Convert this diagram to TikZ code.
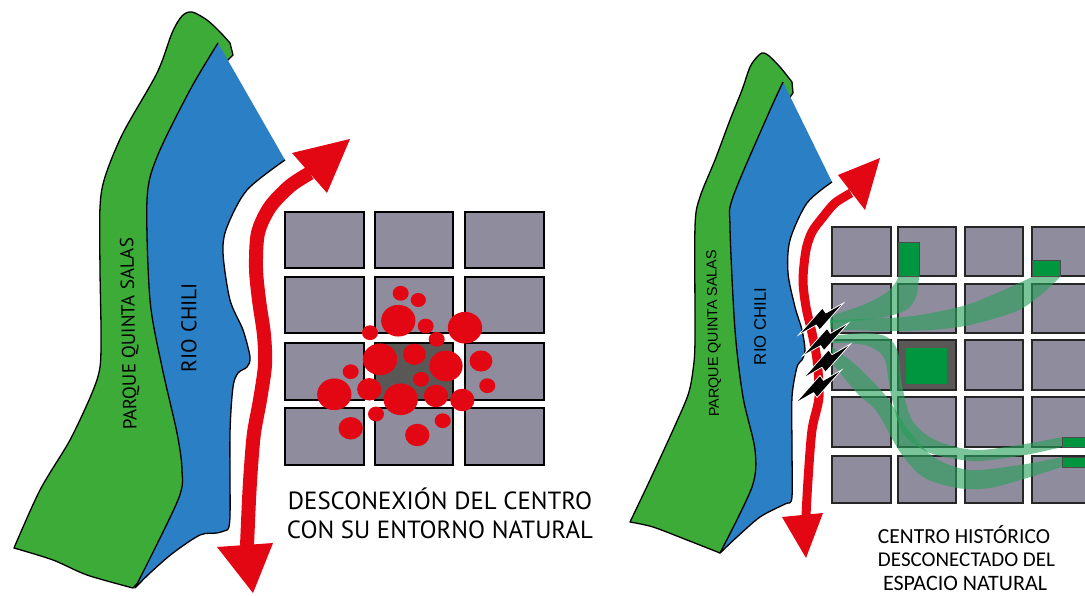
\documentclass[tikz,border=0pt]{standalone}
\usepackage{fontspec}
\usepackage{graphicx}
\usetikzlibrary{calc}
\newfontfamily\humfont{PT Sans}
\newfontfamily\arfont{Liberation Sans}
\newfontfamily\calfont{Carlito}
\definecolor{park}{RGB}{61,171,55}
\definecolor{river}{RGB}{43,127,196}
\definecolor{flow}{RGB}{227,6,19}
\definecolor{blockgray}{RGB}{143,140,158}
\definecolor{darkblock}{RGB}{90,88,86}
\definecolor{solidgreen}{RGB}{0,150,64}
\definecolor{ribgreen}{RGB}{40,160,90}
% lightning bolt between a tail point and a tip point: two offset wedges
\newcommand\boltpath[2]{%
  (#1) -- ($(#1)!0.64!(#2)!7.5pt!90:(#2)$) -- ($(#1)!0.64!(#2)!3pt!-90:(#2)$) -- cycle
  ($(#1)!0.36!(#2)!3pt!90:(#2)$) -- (#2) -- ($(#1)!0.36!(#2)!7.5pt!-90:(#2)$) -- cycle}
\newcommand\boltshape[2]{%
  \draw[white, line width=1.8pt, line join=miter, fill=white] \boltpath{#1}{#2};
  \fill[black] \boltpath{#1}{#2};}
\begin{document}
\begin{tikzpicture}[x=1pt,y=-1pt,
  outline/.style={draw=black, line width=1.3pt, line join=round},
  block/.style={fill=blockgray, draw=black, line width=1.7pt},
  rblock/.style={fill=blockgray, draw=black!85, line width=1.3pt},
  ribbon/.style={fill=ribgreen, fill opacity=0.62},
  gbox/.style={fill=solidgreen, draw=black!70, line width=1pt},
  flowline/.style={draw=flow, line cap=butt, line join=round},
  lbl/.style={inner sep=0pt, text=black}]
\useasboundingbox (0,0) rectangle (1085,596);
\clip (0,0) rectangle (1085,596);

% ---------------- left panel ----------------
% park
\filldraw[outline, fill=park]
  plot[smooth] coordinates {(133,588) (87,575) (53,560) (14,548)}
  -- plot[smooth] coordinates {(14,548) (40,490) (70,440) (92,393) (100,367) (101,330) (100,270) (100,207) (105,177) (123,133) (157,73) (172,33) (182,16) (192,12) (207,20) (220,32) (230,43)}
  -- (233,55) -- (226,62) -- (235,110) -- (195,200) -- (200,400) -- (205,480) -- (185,530) -- (150,570) -- cycle;
% river
\fill[river] (218,43) -- (285,160)
  -- plot[smooth] coordinates {(285,160) (247,190) (227,227) (223,253) (230,300) (243,330) (250,357) (247,367) (238,373) (233,387) (230,433) (230,517) (227,530)}
  -- plot[smooth] coordinates {(227,530) (217,533) (200,535) (173,553) (150,573) (135,588)}
  -- plot[smooth] coordinates {(135,588) (178,500) (182,470) (177,433) (162,367) (150,300) (147,200) (157,157) (190,90) (218,43)} -- cycle;
\draw[outline]
  plot[smooth] coordinates {(285,160) (247,190) (227,227) (223,253) (230,300) (243,330) (250,357) (247,367) (238,373) (233,387) (230,433) (230,517) (227,530)}
  -- plot[smooth] coordinates {(227,530) (217,533) (200,535) (173,553) (150,573) (135,588)}
  -- plot[smooth] coordinates {(135,588) (178,500) (182,470) (177,433) (162,367) (150,300) (147,200) (157,157) (190,90) (218,43)};

% city blocks
\foreach \xa/\xb in {285/364,375/453,465/544}
  \foreach \ya/\yb in {212/268,277/333,343/400,408/465}
    \draw[block] (\xa,\ya) rectangle (\xb,\yb);
\draw[block, fill=darkblock] (375,343) rectangle (453,400);

% congestion spots
\foreach \cx/\cy/\r in {400.7/293.3/7.7, 418.3/300/7.3, 398.3/320.7/16.5, 425.7/326/7.7,
  465/327.7/16.5, 370/332.7/7.7, 436.7/339.3/7.7, 380/359.3/16.5, 414.3/354.3/11,
  446/366/16, 481/361/11, 350.7/371.7/7.7, 421/379.3/7.7, 487.3/385.7/7.7,
  369.3/389.3/11.7, 334.3/394.3/16.5, 400.7/399.3/16.5, 436/396/11.7, 462.3/400/11.7,
  376/414/7.7, 442.7/420.7/7.7, 350.7/428.3/11.7, 417.3/435/11.7}
  \fill[flow] (\cx,\cy) ellipse[x radius=\r*1.04, y radius=\r*0.96];

% river flow arrow
\draw[flowline, line width=14pt] plot[smooth] coordinates {(310,173) (290,186) (270,207) (258,233) (256,268) (259,300) (264,335) (265,365) (260,400) (254,433) (251,467) (249,500) (247,546)};
\fill[flow] (292,153) -- (350,139) -- (327,193) -- cycle;
\fill[flow] (217,547) -- (273,543) -- (253,593) -- cycle;

% labels
\node[lbl, rotate=91] (parkA) at (130,334) {\resizebox{192pt}{!}{\humfont PARQUE QUINTA SALAS}};
\node[lbl, rotate=90] (rioA) at (189,327.5) {\resizebox{89pt}{!}{\humfont RIO CHILI}};
\node[lbl, anchor=base] (capA1) at (440,509) {\resizebox{304pt}{!}{\humfont DESCONEXIÓN DEL CENTRO}};
\node[lbl, anchor=base] (capA2) at (440,538) {\resizebox{306pt}{!}{\humfont CON SU ENTORNO NATURAL}};

% ---------------- right panel ----------------
\filldraw[outline, fill=park]
  plot[smooth] coordinates {(720,553) (687,540) (653,527) (630,522)}
  -- plot[smooth] coordinates {(630,522) (650,480) (673,430) (688,395) (693,370) (695,340) (695,227) (700,197) (715,160) (730,120) (742,90) (750,67) (757,57) (762,53) (768,55) (780,67) (792,82)}
  -- (793,93) -- (788,100) -- (795,150) -- (770,250) -- (765,400) -- (775,480) -- (745,525) -- cycle;
\fill[river] (783,82) -- (832,182)
  -- plot[smooth] coordinates {(832,182) (807,203) (790,240) (788,273) (795,307) (802,330) (805,350) (802,360) (797,367) (792,397) (792,447) (792,497) (788,503)}
  -- plot[smooth] coordinates {(788,503) (783,505) (760,517) (737,537) (720,553)}
  -- plot[smooth] coordinates {(720,553) (752,487) (755,450) (743,397) (735,330) (730,227) (733,197) (767,117) (783,82)} -- cycle;
\draw[outline]
  plot[smooth] coordinates {(832,182) (807,203) (790,240) (788,273) (795,307) (802,330) (805,350) (802,360) (797,367) (792,397) (792,447) (792,497) (788,503)}
  -- plot[smooth] coordinates {(788,503) (783,505) (760,517) (737,537) (720,553)}
  -- plot[smooth] coordinates {(720,553) (752,487) (755,450) (743,397) (735,330) (730,227) (733,197) (767,117) (783,82)};

% city blocks
\foreach \xa/\xb in {832/891,898/956,965/1023,1032/1095}
  \foreach \ya/\yb in {227/276,284/333,340/390,397/447,456/503}
    \draw[rblock] (\xa,\ya) rectangle (\xb,\yb);
\draw[rblock, fill=darkblock] (898,340) rectangle (956,390);

% green corridors
\fill[ribbon] plot[smooth] coordinates {(830,316) (863,305) (886,293) (896,282) (898,277)}
  -- (919,277) -- plot[smooth] coordinates {(919,277) (916,297) (906,310) (880,318) (830,323)} -- cycle;
\fill[ribbon] plot[smooth] coordinates {(830,320) (863,319) (913,316) (963,306) (997,293) (1032,277)}
  -- (1060,277) -- plot[smooth] coordinates {(1060,277) (1043,293) (1017,311) (970,325) (930,330) (880,331) (830,329)} -- cycle;
\fill[ribbon] plot[smooth] coordinates {(832,336) (865,333) (887,337) (898,352) (902,385) (912,420) (935,440) (975,450) (1025,444) (1062,437)}
  -- (1064,447) -- plot[smooth] coordinates {(1062,447) (1025,455) (975,461) (930,453) (903,433) (891,395) (884,358) (865,345) (832,343)} -- cycle;
\fill[ribbon] plot[smooth] coordinates {(832,347) (857,366) (885,395) (910,432) (935,458) (970,470) (1020,465) (1062,457)}
  -- (1064,467) -- plot[smooth] coordinates {(1062,467) (1027,478) (990,488) (957,488) (923,477) (900,452) (877,412) (857,393) (832,363)} -- cycle;

% green spaces
\draw[gbox] (898,243) rectangle (919,277);
\draw[gbox] (1032,261) rectangle (1060,277);
\draw[gbox] (1062,437) rectangle (1092,447);
\draw[gbox] (1062,457) rectangle (1092,467);
\fill[solidgreen] (906,348) rectangle (947,384);

% river flow arrow
\draw[flowline, line width=9pt] plot[smooth] coordinates {(851,193) (835,203) (823,217) (812,232) (806,250) (803,280) (806,307) (812,333) (817,360) (819,397) (812,430) (808,480) (806,516)};
\fill[flow] (838,175) -- (880,158) -- (865,210) -- cycle;
\fill[flow] (782,517) -- (823,513) -- (806,558) -- cycle;

% barriers
\coordinate (b1t) at (841,305); \coordinate (b1p) at (801,333);
\coordinate (b2t) at (846,325); \coordinate (b2p) at (805,354);
\coordinate (b3t) at (848,346); \coordinate (b3p) at (806,376);
\coordinate (b4t) at (839,372); \coordinate (b4p) at (798,401);
\boltshape{b1t}{b1p}
\boltshape{b2t}{b2p}
\boltshape{b3t}{b3p}
\boltshape{b4t}{b4p}

% labels
\node[lbl, rotate=91] (parkB) at (714,333.5) {\resizebox{167pt}{!}{\arfont PARQUE QUINTA SALAS}};
\node[lbl, rotate=90] (rioB) at (760,326.5) {\resizebox{77pt}{!}{\arfont RIO CHILI}};
\node[lbl, anchor=base] (capB1) at (964,543) {\resizebox{172pt}{!}{\calfont CENTRO HISTÓRICO}};
\node[lbl, anchor=base] (capB2) at (966.5,566.5) {\resizebox{177pt}{!}{\calfont DESCONECTADO DEL}};
\node[lbl, anchor=base] (capB3) at (965,590) {\resizebox{164pt}{!}{\calfont ESPACIO NATURAL}};
\end{tikzpicture}
\end{document}
